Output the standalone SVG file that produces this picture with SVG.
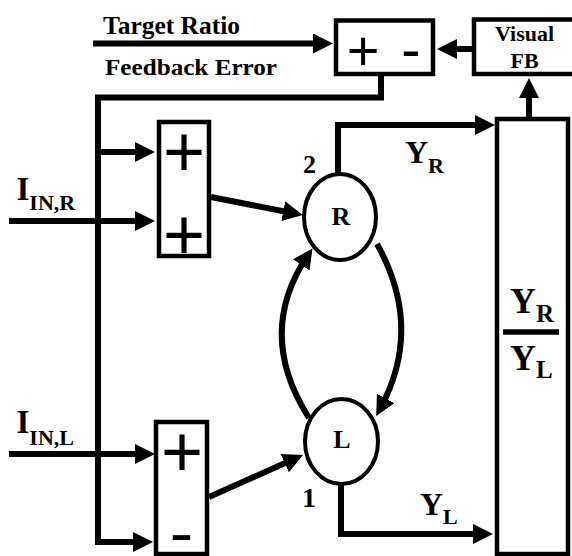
<svg xmlns="http://www.w3.org/2000/svg" width="572" height="556" viewBox="0 0 572 556">
<style>
.box{fill:#fff;stroke:#000;stroke-width:4.5}
.node{fill:#fff;stroke:#000;stroke-width:4}
.wire{fill:none;stroke:#000;stroke-width:6;stroke-linejoin:miter}
.arr{marker-end:url(#ah)}
.lbl{font-family:"Liberation Serif","Times New Roman",serif;font-weight:bold;fill:#000}
.op{font-family:"Liberation Sans",Arial,sans-serif;fill:#000;text-anchor:middle}
</style>
<defs>
<marker id="ah" viewBox="0 0 20 20" refX="12" refY="10" markerWidth="20" markerHeight="20" markerUnits="userSpaceOnUse" orient="auto">
<path d="M0,0 L20,10 L0,20 Z" fill="#000"/>
</marker>
</defs>
<rect width="572" height="556" fill="#fff"/>

<g id="connectors">
<line class="wire arr" x1="93" y1="43.5" x2="325" y2="43.5"/>
<line class="wire arr" x1="473" y1="49" x2="445" y2="49"/>
<line class="wire arr" x1="529" y1="118" x2="529" y2="86"/>
<polyline class="wire arr" points="381,75 381,97.5 98,97.5 98,542 145,542"/>
<line class="wire arr" x1="98" y1="152" x2="147" y2="152"/>
<line class="wire arr" x1="9" y1="221" x2="147" y2="221"/>
<line class="wire arr" x1="9" y1="454" x2="147" y2="454"/>
<line class="wire arr" x1="211" y1="197" x2="295" y2="213.5"/>
<line class="wire arr" x1="209" y1="497" x2="295.7" y2="458.3"/>
<polyline class="wire arr" points="338,174 338,125 487,125"/>
<polyline class="wire arr" points="341,484 341,534 485,534"/>
<path class="wire arr" d="M377,244 Q424,328 380,409"/>
<path class="wire arr" d="M309,418 Q255,333 308,255"/>
</g>

<g id="labels">
<text class="lbl" x="103" y="34" font-size="25" textLength="137" lengthAdjust="spacingAndGlyphs">Target Ratio</text>
<text class="lbl" x="105" y="75" font-size="24" textLength="172" lengthAdjust="spacingAndGlyphs">Feedback Error</text>
<text class="lbl" x="16.5" y="200" font-size="33">I<tspan font-size="22" dy="10">IN,R</tspan></text>
<text class="lbl" x="16.5" y="433" font-size="33">I<tspan font-size="22" dy="12">IN,L</tspan></text>
<text class="lbl" x="405" y="163" font-size="32">Y<tspan font-size="22" dy="10">R</tspan></text>
<text class="lbl" x="420" y="515" font-size="32">Y<tspan font-size="22" dy="9">L</tspan></text>
<text class="lbl" x="303" y="173" font-size="26">2</text>
<text class="lbl" x="302" y="507" font-size="28">1</text>
</g>

<g id="sum-top">
<rect class="box" x="336" y="20.5" width="97" height="53.5"/>
<text class="op" x="363" y="69.8" font-size="56">+</text>
<text class="op" x="411" y="68.7" font-size="58">-</text>
</g>

<g id="visual-fb">
<rect class="box" x="474" y="19.5" width="110" height="54.5"/>
<text class="lbl" x="524.5" y="41" font-size="22" text-anchor="middle">Visual</text>
<text class="lbl" x="524.5" y="68" font-size="22" text-anchor="middle">FB</text>
</g>

<g id="sum-r">
<rect class="box" x="159" y="122" width="50" height="134"/>
<text class="op" x="184" y="175.5" font-size="72">+</text>
<text class="op" x="184" y="258.5" font-size="72">+</text>
</g>

<g id="sum-l">
<rect class="box" x="156" y="422" width="51" height="132"/>
<text class="op" x="182" y="475.5" font-size="72">+</text>
<text class="op" x="181.5" y="547.5" font-size="40" font-weight="bold" textLength="23" lengthAdjust="spacingAndGlyphs">-</text>
</g>

<g id="node-r">
<ellipse class="node" cx="340" cy="217" rx="36" ry="43"/>
<text class="lbl" x="341" y="225" font-size="26" text-anchor="middle">R</text>
</g>

<g id="node-l">
<ellipse class="node" cx="341.5" cy="441.5" rx="36.5" ry="42.5"/>
<text class="lbl" x="342" y="448" font-size="26" text-anchor="middle">L</text>
</g>

<g id="ratio">
<rect class="box" x="497" y="119" width="71" height="435"/>
<text class="lbl" x="510" y="313" font-size="36">Y<tspan font-size="25" dy="9">R</tspan></text>
<line x1="503" y1="332" x2="559" y2="332" stroke="#000" stroke-width="5.5"/>
<text class="lbl" x="510" y="370" font-size="36">Y<tspan font-size="25" dy="8">L</tspan></text>
</g>
</svg>
